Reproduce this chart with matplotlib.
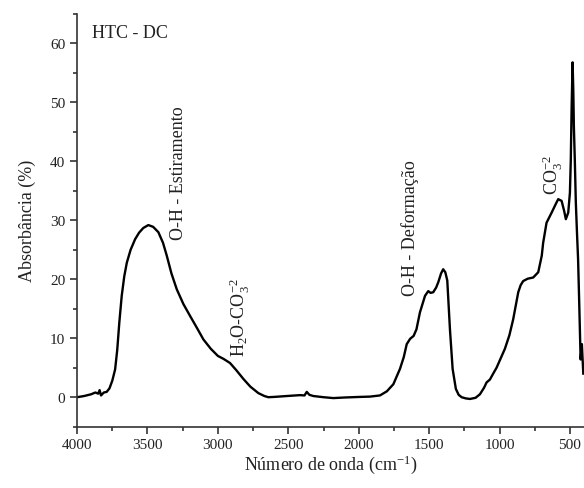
import matplotlib
matplotlib.use("Agg")
import matplotlib.pyplot as plt
from matplotlib.ticker import MultipleLocator

plt.rcParams['font.family'] = ['Liberation Serif', 'DejaVu Serif']
plt.rcParams['mathtext.fontset'] = 'custom'
plt.rcParams['mathtext.rm'] = 'Liberation Serif'
plt.rcParams['mathtext.it'] = 'Liberation Serif:italic'

wavenumber = [4000, 3950, 3900, 3870, 3850, 3840, 3830, 3810, 3790, 3770, 3750, 3730,
              3715, 3700, 3683, 3665, 3647, 3620, 3588, 3560, 3530, 3494, 3460, 3423,
              3390, 3363, 3330, 3292, 3245, 3198, 3150, 3103, 3050, 3000, 2960, 2914,
              2870, 2819, 2770, 2713, 2670, 2642, 2600, 2511, 2417, 2385, 2369, 2350,
              2322, 2250, 2180, 2100, 1991, 1920, 1849, 1800, 1754, 1707, 1680, 1659,
              1635, 1610, 1590, 1565, 1529, 1506, 1490, 1471, 1450, 1435, 1415, 1400,
              1385, 1371, 1352, 1333, 1310, 1290, 1269, 1240, 1210, 1170, 1139, 1110,
              1092, 1068, 1045, 1021, 997, 962, 930, 903, 867, 850, 832, 800, 761, 725,
              700, 690, 666, 630, 600, 583, 559, 540, 529, 512, 500, 494, 488, 481, 476,
              472, 465, 458, 450, 442, 435, 424, 415, 405]
absorbance = [0.0, 0.2, 0.5, 0.8, 0.6, 1.2, 0.3, 0.8, 0.9, 1.5, 2.8, 4.7,
              8.0, 12.7, 17.2, 20.5, 22.8, 25.0, 26.8, 27.9, 28.7, 29.2, 28.9, 28.0,
              26.2, 24.0, 21.0, 18.3, 15.8, 13.8, 11.8, 9.8, 8.2, 7.0, 6.5, 5.8,
              4.6, 3.1, 1.8, 0.7, 0.2, 0.0, 0.05, 0.2, 0.35, 0.3, 0.9, 0.4,
              0.2, 0.0, -0.15, -0.05, 0.05, 0.1, 0.3, 1.0, 2.2, 4.8, 6.8, 9.0,
              9.9, 10.4, 11.5, 14.4, 17.2, 18.0, 17.7, 17.8, 18.6, 19.5, 21.0, 21.7,
              21.2, 19.8, 11.5, 4.8, 1.4, 0.4, 0.0, -0.2, -0.3, -0.1, 0.5, 1.6,
              2.5, 3.0, 4.0, 5.0, 6.3, 8.2, 10.5, 13.2, 17.8, 19.0, 19.7, 20.1, 20.3, 21.2,
              24.0, 26.2, 29.6, 31.3, 32.8, 33.6, 33.3, 31.5, 30.2, 31.3, 34.7, 40.0, 48.9, 56.8, 52.0,
              46.0, 40.0, 33.0, 28.0, 23.4, 17.0, 6.4, 9.0, 4.0]

x_ticks = [4000, 3500, 3000, 2500, 2000, 1500, 1000, 500]
y_ticks = [0, 10, 20, 30, 40, 50, 60]

fig = plt.figure(figsize=(5.84, 4.89), dpi=100)
ax = fig.add_axes([0.132, 0.1254, 0.868, 0.8439])
ax.plot(wavenumber, absorbance, color='black', lw=1.7)
ax.set_xlim(4000, 400)
ax.set_ylim(-5, 65)
ax.set_xticks(x_ticks)
ax.set_yticks(y_ticks)
ax.xaxis.set_minor_locator(MultipleLocator(250))
ax.yaxis.set_minor_locator(MultipleLocator(5))
for s in ['top', 'right']:
    ax.spines[s].set_visible(False)
for s in ['left', 'bottom']:
    ax.spines[s].set_color('#333333')
    ax.spines[s].set_linewidth(1.2)
ax.tick_params(which='major', direction='out', length=5, width=1.2, labelsize=11, colors='#333333', labelcolor='#222222')
ax.tick_params(which='minor', direction='out', length=3, width=1.2, colors='#333333')

ax.set_xlabel('Número de onda (cm$^{-1}$)', fontsize=13, color='#222222', labelpad=1)
ax.set_ylabel('Absorbância (%)', fontsize=13, color='#222222', labelpad=10)

ax.text(3894, 61.9, 'HTC - DC', fontsize=13, ha='left', va='center', color='#222222')
ax.text(3283, 38.2, 'O-H - Estiramento', fontsize=13, rotation=90, ha='center', va='center', color='#222222')
ax.text(2843, 13.7, 'H$_2$O-CO$_3^{-2}$', fontsize=13, rotation=90, ha='center', va='center', color='#222222')
ax.text(1636, 28.8, 'O-H - Deformação', fontsize=13, rotation=90, ha='center', va='center', color='#222222')
ax.text(621, 37.8, 'CO$_3^{-2}$', fontsize=13, rotation=90, ha='center', va='center', color='#222222')

fig.savefig('out.png', dpi=100)
